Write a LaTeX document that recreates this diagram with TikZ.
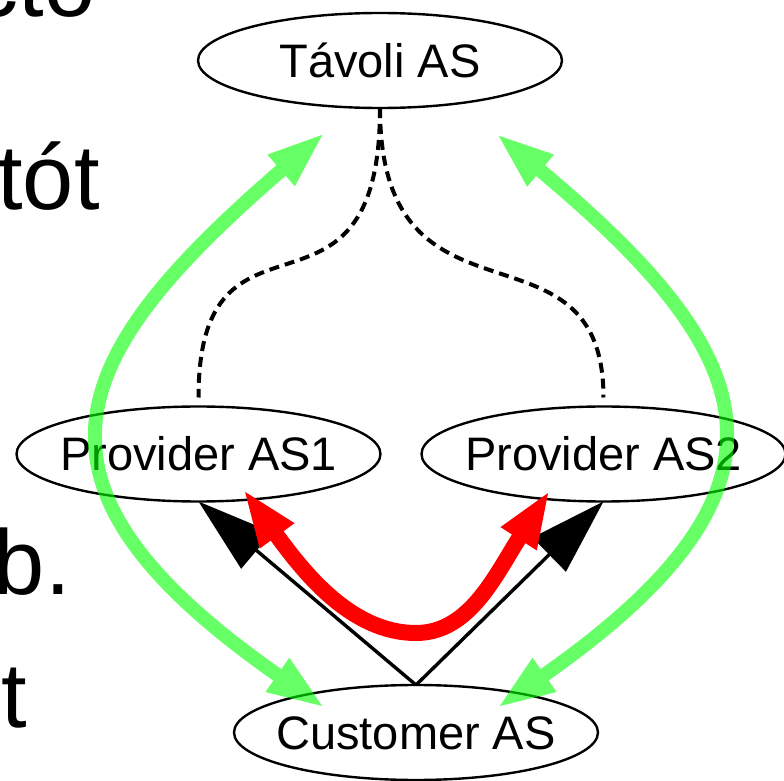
\documentclass[tikz,border=0pt]{standalone}
\usepackage{fontspec}
\setmainfont{Liberation Sans}
\usetikzlibrary{arrows.meta, shapes.geometric}
\newcommand{\astext}[1]{\makebox[0pt]{#1}}

\begin{document}
\begin{tikzpicture}[x=0.5pt, y=-0.5pt,
        as/.style = {shape=ellipse, draw, line width=1.2pt, inner sep=0pt, outer sep=0pt,
        minimum width=182pt, minimum height=47.5pt, text height=16.8pt, text depth=0pt,
        font=\fontsize{23.5}{28}\selectfont},
        side/.style = {anchor=base east, inner sep=0pt, font=\fontsize{46}{55}\selectfont},
        link/.style = {dash pattern=on 5pt off 3pt, line width=2pt},
        route/.style = {line width=1.7pt, -{Triangle[length=38pt, width=23.5pt]}},
        export/.style = {red, line width=8pt, {Triangle[length=29pt, width=19pt]}-{Triangle[length=29pt, width=19pt]}},
        announce/.style = {green, line width=7pt, {Triangle[length=29pt, width=18.5pt]}-{Triangle[length=29pt, width=18.5pt]}}]
    \useasboundingbox (0,0) rectangle (784,781);
    \clip (0,0) rectangle (784,781);

    % slide text cut off at the left
    \node[side] (cto) at (96,17) {cto};
    \node[side] (tot) at (100,210) {tót};
    \node[side] (bdot) at (71,595) {b.};
    \node[side] (tt) at (27,728) {t};

    % autonomous systems
    \node[as] (tav) at (380,60.5) {\astext{Távoli AS}};
    \node[as] (p1) at (198.5,454) {\astext{Provider AS1}};
    \node[as] (p2) at (603.5,454) {\astext{Provider AS2}};
    \node[as] (cust) at (416,732.5) {\astext{Customer AS}};

    \draw[link] (tav.south) .. controls +(0,244) and +(0,-216) .. ([yshift=4.5pt]p1.north);
    \draw[link] (tav.south) .. controls +(0,238) and +(0,-190) .. ([yshift=4.5pt]p2.north);

    \draw[route] (cust.north) -- (p1.south);
    \draw[route] (cust.north) -- (p2.south);

    \coordinate (low) at (416,633);
    \draw[export] ([shift={(44.5,35)}]p1.center) .. controls +(59,81) and +(-66,0) .. (low)
        .. controls +(54,0) and +(-54,84) .. ([shift={(-53.5,36)}]p2.center);

    \begin{scope}[transparency group, opacity=0.6]
        \draw[announce] ([shift={(-55,24.5)}]tav.south) .. controls +(-261,225.5) and +(-322,-224) .. ([shift={(-91,-24.5)}]cust.center);
        \draw[announce] ([shift={(116,25.5)}]tav.south) .. controls +(266.5,222) and +(318,-222) .. ([shift={(81,-24.5)}]cust.center);
    \end{scope}
\end{tikzpicture}
\end{document}
